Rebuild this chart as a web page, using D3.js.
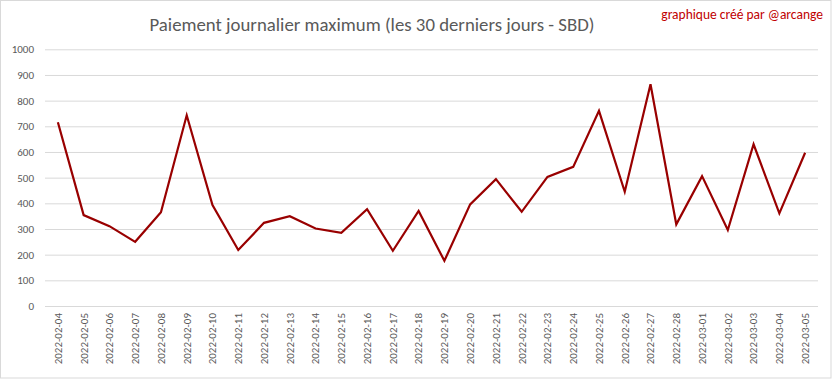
<!DOCTYPE html>
<html><head><meta charset="utf-8">
<script src="https://cdn.jsdelivr.net/npm/d3@7"></script>
<style>body{margin:0;background:#fff}svg{display:block}</style>
</head><body>
<svg id="c" width="833" height="379"></svg>
<script>
const dates = ["2022-02-04","2022-02-05","2022-02-06","2022-02-07","2022-02-08","2022-02-09","2022-02-10","2022-02-11","2022-02-12","2022-02-13","2022-02-14","2022-02-15","2022-02-16","2022-02-17","2022-02-18","2022-02-19","2022-02-20","2022-02-21","2022-02-22","2022-02-23","2022-02-24","2022-02-25","2022-02-26","2022-02-27","2022-02-28","2022-03-01","2022-03-02","2022-03-03","2022-03-04","2022-03-05"];
const values = [716,354,311,250,365,743,393,218,324,350,302,285,377,215,370,176,396,494,367,503,542,760,445,864,318,506,296,630,361,597];
const yTicks = [0,100,200,300,400,500,600,700,800,900,1000];
const title = "Paiement journalier maximum (les 30 derniers jours - SBD)";
const credit = "graphique créé par @arcange";

(function(){
const svg = d3.select("#c");
const font = "Carlito, 'Open Sans', 'Liberation Sans', sans-serif";
svg.append("rect").attr("x",0.5).attr("y",0.5).attr("width",830.5).attr("height",377.5)
  .attr("fill","#fff").attr("stroke","#d9d9d9");

const mL=45, mR=818, mT=49.3, mB=306;
const x = d3.scaleBand().domain(dates).range([mL,mR]);
const y = d3.scaleLinear().domain([0,1000]).range([mB,mT]);

const gy = svg.append("g").attr("transform",`translate(${mL},0)`)
  .call(d3.axisLeft(y).tickValues(yTicks).tickFormat(d3.format("d")).tickSize(-(mR-mL)).tickPadding(11));
gy.select(".domain").remove();
gy.selectAll(".tick line").attr("stroke","#d9d9d9").attr("stroke-width",1);
gy.selectAll(".tick text").attr("fill","#595959").attr("font-size","11px").attr("font-family",font);

const gx = svg.append("g").attr("transform",`translate(0,${mB})`)
  .call(d3.axisBottom(x).tickSize(0).tickPadding(0));
gx.select(".domain").remove();
gx.selectAll(".tick text").attr("fill","#595959").attr("font-size","11px").attr("font-family",font)
  .attr("transform","rotate(-90)").attr("text-anchor","end").attr("dx","-7px").attr("dy","0.35em");

const line = d3.line().x((d,i)=>x(dates[i])+x.bandwidth()/2).y(d=>y(d));
svg.append("path").datum(values).attr("d",line).attr("fill","none")
  .attr("stroke","#990000").attr("stroke-width",2.2).attr("stroke-linejoin","miter");

svg.append("text").attr("x",372).attr("y",31).attr("text-anchor","middle")
  .attr("font-size","18.8px").attr("font-family",font).attr("fill","#595959").text(title);
svg.append("text").attr("x",823).attr("y",19).attr("text-anchor","end")
  .attr("font-size","13.5px").attr("font-family",font).attr("fill","#c00000").text(credit);
})();
</script>
</body></html>
